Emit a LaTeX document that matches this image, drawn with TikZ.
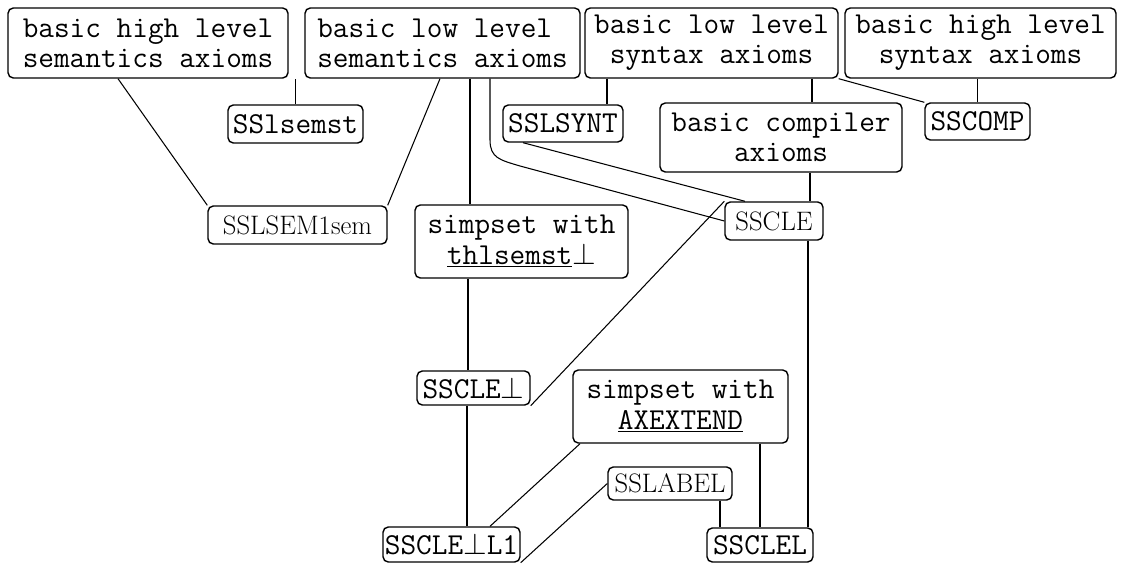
\documentclass[tikz,border=0pt]{standalone}
\usepackage{tikz}

\tikzset{
  axbox/.style={draw, line width=0.8pt, rounded corners=3pt, inner sep=0pt, align=center,
    font=\fontsize{17.3}{17.2}\selectfont\ttfamily},
  rmbox/.style={axbox, font=\fontsize{15.2}{16}\selectfont\rmfamily},
}

\begin{document}
\begin{tikzpicture}[x=0.02cm, y=-0.02cm, line width=0.6pt]
\useasboundingbox (0,0) rectangle (1121,564);

\node[axbox, minimum width=5.6cm, minimum height=1.4cm] (hisem) at (148,43) {basic high level\\semantics axioms};
\node[axbox, align=left, minimum width=5.5cm, minimum height=1.4cm] (losem) at (442.5,43) {basic low level\\semantics axioms};
\node[axbox, minimum width=5.06cm, minimum height=1.4cm] (losyn) at (711.5,43) {basic low level\\syntax axioms};
\node[axbox, minimum width=5.42cm, minimum height=1.4cm] (hisyn) at (980.5,43) {basic high level\\syntax axioms};

\node[axbox, minimum width=2.7cm, minimum height=0.76cm] (sslsemst) at (295.5,124) {SSlsemst};
\node[axbox, minimum width=2.4cm, minimum height=0.74cm] (sslsynt) at (563,123.5) {SSLSYNT};
\node[axbox, minimum width=4.84cm, minimum height=1.38cm] (compiler) at (781,137.5) {basic compiler\\axioms};
\node[axbox, minimum width=2.1cm, minimum height=0.74cm] (sscomp) at (977.5,121.5) {SSCOMP};

\node[rmbox, minimum width=3.58cm, minimum height=0.76cm] (sslsem) at (297.5,225) {SSLSEM1sem};
\node[axbox, minimum width=4.26cm, minimum height=1.46cm] (thlsimp) at (521.5,241.5) {simpset with\\\underline{thlsemst}$\bot$};
\node[rmbox, minimum width=1.96cm, minimum height=0.76cm] (sscle) at (774,221) {SSCLE};

\node[axbox, minimum width=2.26cm, minimum height=0.68cm] (ssclebot) at (473.5,388) {SSCLE$\bot$};
\node[axbox, minimum width=4.3cm, minimum height=1.46cm] (axsimp) at (680.5,406.5) {simpset with\\\underline{AXEXTEND}};
\node[rmbox, minimum width=2.48cm, minimum height=0.66cm] (sslabel) at (670,483.5) {SSLABEL};
\node[axbox, minimum width=2.74cm, minimum height=0.7cm] (ssclebotl) at (451.5,544.5) {SSCLE$\bot$L1};
\node[axbox, minimum width=2.12cm, minimum height=0.68cm] (ssclel) at (760,545) {SSCLEL};

% semantics side
\draw (118,0 |- hisem.south) -- (sslsem.north west);
\draw (sslsemst.north) -- (sslsemst.north |- losem.south);
\draw (440,0 |- losem.south) -- (sslsem.north east);
\draw (470,0 |- losem.south) -- (470,0 |- thlsimp.north);
\draw (490,0 |- losem.south) -- (490,140) .. controls (490,158) and (500,160) .. (520,166) -- (sscle.west);

% syntax side
\draw (607,0 |- losyn.south) -- (607,0 |- sslsynt.north);
\draw (523,0 |- sslsynt.south) -- (745,0 |- sscle.north);
\draw (812,0 |- losyn.south) -- (812,0 |- compiler.north);
\draw (losyn.south east) -- (sscomp.north west);
\draw (sscomp.north) -- (sscomp.north |- hisyn.south);
\draw (810,0 |- compiler.south) -- (810,0 |- sscle.north);

% lower part
\draw (sscle.north west) -- (ssclebot.south east);
\draw (468,0 |- thlsimp.south) -- (468,0 |- ssclebot.north);
\draw (467,0 |- ssclebot.south) -- (467,0 |- ssclebotl.north);
\draw (808,0 |- sscle.south) -- (808,0 |- ssclel.north);
\draw (580,0 |- axsimp.south) -- (490,0 |- ssclebotl.north);
\draw (sslabel.west) -- (ssclebotl.south east);
\draw (720,0 |- sslabel.south) -- (720,0 |- ssclel.north);
\draw (760,0 |- axsimp.south) -- (760,0 |- ssclel.north);
\end{tikzpicture}
\end{document}
